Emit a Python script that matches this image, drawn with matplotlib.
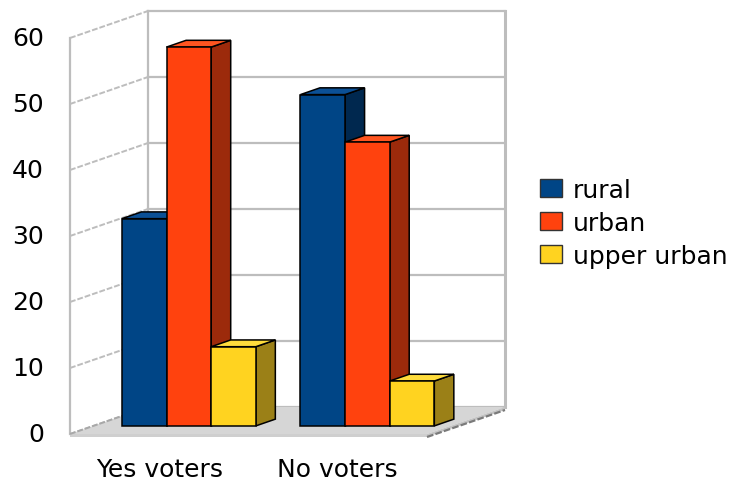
import matplotlib
matplotlib.use("Agg")
import matplotlib.pyplot as plt
from matplotlib.patches import Polygon, Patch

categories = ["Yes voters", "No voters"]
series = ["rural", "urban", "upper urban"]
rural = [31.4, 50.2]
urban = [57.4, 43.0]
upper_urban = [12.0, 6.8]
yticks = [0, 10, 20, 30, 40, 50, 60]

front = ["#004586", "#ff420e", "#ffd320"]
side = ["#00284f", "#9c2a0b", "#9b8017"]
top = ["#0b5096", "#ff5520", "#ffdc3c"]

# oblique projection: one unit of depth moves this far in x (categories) and y (values)
DX, DY = 78 / 178.5, 27 / 6.6
bar_d0, bar_depth = 0.3, 0.25
bar_w, group_start = 0.25, 0.16
ymax = 60
n = len(categories)

fig = plt.figure(figsize=(7.39, 4.85), dpi=100)
ax = fig.add_axes([0, 0, 1, 1])
ax.set_xlim(-70 / 178.5, (739 - 70) / 178.5)
ax.set_ylim(-50 / 6.6, (485 - 50) / 6.6)
ax.axis("off")

grid = "#bdbdbd"

# walls
ax.add_patch(Polygon([(DX, DY), (n + DX, DY), (n + DX, ymax + DY), (DX, ymax + DY)],
                     facecolor="white", edgecolor="none", zorder=1))
ax.add_patch(Polygon([(0, 0), (DX, DY), (DX, ymax + DY), (0, ymax)],
                     facecolor="white", edgecolor="none", zorder=1))
for v in yticks:
    ax.plot([DX, n + DX], [v + DY, v + DY], color=grid, lw=1.6, zorder=2)
    ax.plot([0, DX], [v, v + DY], color=grid, lw=1.4, ls=(0, (3, 1)), zorder=2)
ax.plot([0, 0], [0, ymax], color=grid, lw=1.6, zorder=2)
ax.plot([DX, DX], [DY, ymax + DY], color=grid, lw=1.6, zorder=2)
ax.plot([n + DX, n + DX], [DY, ymax + DY], color=grid, lw=2.2, zorder=2)

# floor slab
t = 3 / 6.6
ax.add_patch(Polygon([(0, 0), (n, 0), (n + DX, DY), (DX, DY)],
                     facecolor="#d6d6d6", edgecolor="none", zorder=3))
ax.add_patch(Polygon([(0, 0), (n, 0), (n, -t), (0, -t)],
                     facecolor="#cfcfcf", edgecolor="none", zorder=3))
ax.add_patch(Polygon([(n, 0), (n + DX, DY), (n + DX, DY - t), (n, -t)],
                     facecolor="#c4c4c4", edgecolor="none", zorder=3))
ax.plot([n, n + DX], [-t, DY - t], color="#7a7a7a", lw=1.6, ls=(0, (3, 1)), zorder=3)
ax.plot([0, DX], [0, DY], color="#a8a8a8", lw=1.4, ls=(0, (3, 1)), zorder=3)


def bar(x0, v, k, z):
    ox, oy = bar_d0 * DX, bar_d0 * DY
    bx, by = bar_depth * DX, bar_depth * DY
    x1 = x0 + bar_w
    fr = [(x0 + ox, oy), (x1 + ox, oy), (x1 + ox, v + oy), (x0 + ox, v + oy)]
    sd = [(x1 + ox, oy), (x1 + ox + bx, oy + by), (x1 + ox + bx, v + oy + by), (x1 + ox, v + oy)]
    tp = [(x0 + ox, v + oy), (x1 + ox, v + oy), (x1 + ox + bx, v + oy + by), (x0 + ox + bx, v + oy + by)]
    kw = dict(edgecolor="black", lw=1.1, joinstyle="miter", zorder=z)
    ax.add_patch(Polygon(sd, facecolor=side[k], **kw))
    ax.add_patch(Polygon(tp, facecolor=top[k], **kw))
    ax.add_patch(Polygon(fr, facecolor=front[k], **kw))


z = 4
for i in range(n):
    for k, vals in enumerate([rural, urban, upper_urban]):
        bar(i + group_start + k * bar_w, vals[i], k, z)
        z += 1

fs = 18
for v in yticks:
    ax.text(-26 / 178.5, v, str(v), ha="right", va="center", fontsize=fs, color="black")
for i, c in enumerate(categories):
    ax.text(i + 0.5, -5.3, c, ha="center", va="center", fontsize=fs, color="black")

handles = [Patch(facecolor=front[k], edgecolor="#333333", lw=1.0) for k in range(3)]
ax.legend(handles, series, loc="center left", bbox_to_anchor=(540 / 739, 1 - 224 / 485),
          bbox_transform=fig.transFigure, frameon=False, fontsize=fs,
          handlelength=0.86, handleheight=0.72, handletextpad=0.45,
          labelspacing=0.36, borderpad=0, borderaxespad=0)

fig.savefig("out.png", dpi=100)
